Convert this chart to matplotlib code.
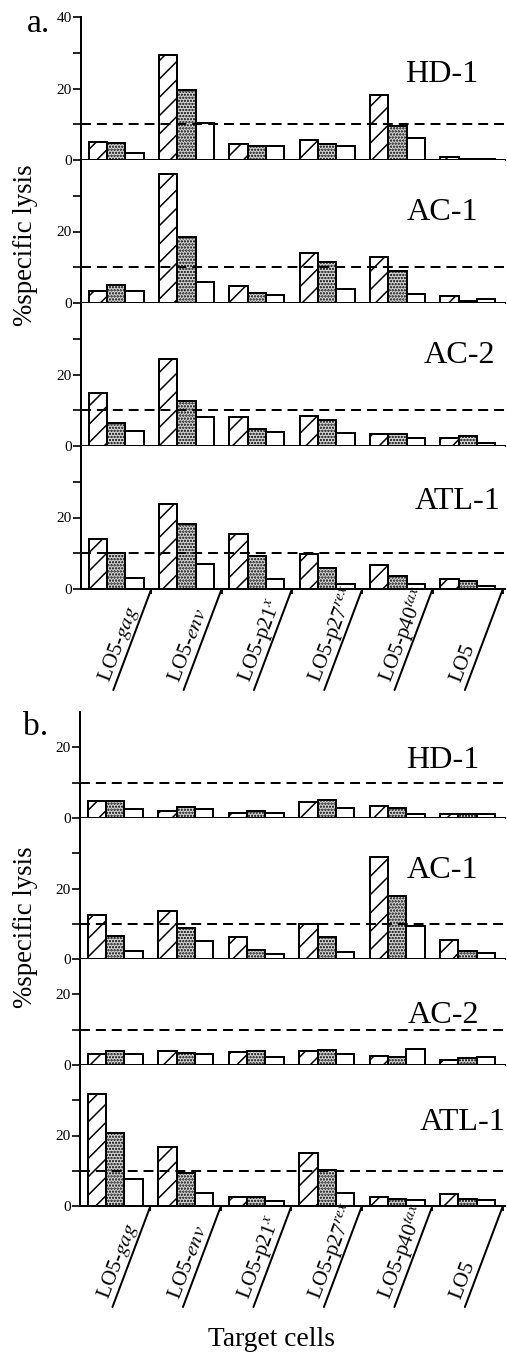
import matplotlib
matplotlib.use('Agg')
import matplotlib.pyplot as plt
import numpy as np

plt.rcParams['font.family'] = ['Liberation Serif', 'DejaVu Serif']
plt.rcParams['mathtext.fontset'] = 'stix'
plt.rcParams['hatch.linewidth'] = 1.0

# target cells (x categories)
categories = ['LO5-gag', 'LO5-env', 'LO5-p21x', 'LO5-p27rex', 'LO5-p40tax', 'LO5']
cat_labels = ['LO5-$\\mathit{gag}$', 'LO5-$\\mathit{env}$', 'LO5-p21$^{x}$',
              'LO5-p27$^{rex}$', 'LO5-p40$^{tax}$', 'LO5']
effectors = ['HD-1', 'AC-1', 'AC-2', 'ATL-1']

# panel a, % specific lysis  (hatched / stippled / open bars)
a_hd1_hatch = [5.0, 29.3, 4.5, 5.6, 18.3, 0.7]
a_hd1_dot = [4.8, 19.5, 4.0, 4.4, 9.4, 0.3]
a_hd1_open = [2.0, 10.3, 4.0, 3.8, 6.1, 0.2]
a_ac1_hatch = [3.3, 36.2, 4.7, 14.0, 12.9, 1.9]
a_ac1_dot = [5.0, 18.6, 2.9, 11.6, 9.0, 0.6]
a_ac1_open = [3.3, 6.0, 2.1, 3.8, 2.4, 1.2]
a_ac2_hatch = [14.8, 24.4, 8.1, 8.3, 3.3, 2.2]
a_ac2_dot = [6.5, 12.6, 4.8, 7.2, 3.3, 2.8]
a_ac2_open = [4.1, 8.1, 3.9, 3.5, 2.2, 0.9]
a_atl1_hatch = [14.1, 23.8, 15.4, 9.7, 6.6, 2.9]
a_atl1_dot = [10.0, 18.1, 9.1, 6.0, 3.6, 2.3]
a_atl1_open = [3.2, 7.1, 2.9, 1.3, 1.3, 0.9]

# panel b
b_hd1_hatch = [4.7, 1.9, 1.3, 4.4, 3.4, 1.0]
b_hd1_dot = [4.8, 3.1, 2.0, 5.0, 2.8, 1.0]
b_hd1_open = [2.5, 2.5, 1.4, 2.8, 1.1, 1.0]
b_ac1_hatch = [12.4, 13.6, 6.1, 10.0, 29.0, 5.3]
b_ac1_dot = [6.4, 8.8, 2.6, 6.1, 18.0, 2.3]
b_ac1_open = [2.4, 5.0, 1.5, 2.1, 9.3, 1.7]
b_ac2_hatch = [3.0, 4.1, 3.8, 3.9, 2.6, 1.3]
b_ac2_dot = [4.1, 3.3, 4.1, 4.3, 2.2, 2.0]
b_ac2_open = [3.2, 3.0, 2.2, 3.2, 4.5, 2.2]
b_atl1_hatch = [31.7, 16.6, 2.6, 15.0, 2.6, 3.5]
b_atl1_dot = [20.7, 9.5, 2.6, 10.3, 1.9, 2.1]
b_atl1_open = [7.8, 3.8, 1.3, 3.8, 1.6, 1.6]

cutoff = 10

W, H = 507, 1357
DPI = 110
fig = plt.figure(figsize=(W / DPI, H / DPI), dpi=DPI)


def px_axes(left, top, width, height):
    return fig.add_axes([left / W, 1 - (top + height) / H, width / W, height / H])


def draw_row(ax, hatch, dot, opn, ymax, name, name_pos, top_label=False):
    x = np.arange(len(categories)) + 0.5
    w = 0.26
    ax.bar(x - w, hatch, w, facecolor='white', edgecolor='black', hatch='//', lw=1.3, zorder=2)
    ax.bar(x, dot, w, facecolor='#d2d2d2', edgecolor='black', hatch='......', lw=1.3, zorder=2)
    ax.bar(x + w, opn, w, facecolor='white', edgecolor='black', lw=1.3, zorder=2)
    ax.axhline(cutoff, color='black', lw=1.3, ls=(0, (5, 3)), zorder=3)
    ax.set_xlim(0, 6.03)
    ax.set_ylim(0, ymax)
    for s in ['top', 'right']:
        ax.spines[s].set_visible(False)
    for s in ['left', 'bottom']:
        ax.spines[s].set_linewidth(1.3)
    ax.set_xticks(np.arange(1, 7))
    ax.set_xticklabels([])
    ax.tick_params(axis='x', direction='out', length=3, width=1.2)
    yt = [0, 20, 40] if top_label else [0, 20]
    ax.set_yticks(yt)
    ax.set_yticklabels([str(v) for v in yt])
    ax.set_yticks([v for v in [10, 30] if v < ymax], minor=True)
    ax.tick_params(axis='y', which='both', direction='out', length=5, width=1.1,
                   labelsize=10, pad=1)
    ax.text(name_pos[0], name_pos[1], name, transform=ax.transAxes, ha='right',
            va='center', fontsize=21, zorder=1)


def draw_cats(ax):
    # slanted underline from each group tick, label sitting on it
    for i, lbl in enumerate(cat_labels):
        ax.annotate('', xy=(i + 1, 0), xycoords=('data', 'axes fraction'),
                    xytext=(-38, -101), textcoords='offset pixels',
                    arrowprops=dict(arrowstyle='-', lw=1.3, shrinkA=0, shrinkB=0),
                    annotation_clip=False)
        ax.annotate(lbl, xy=(i + 1, 0), xycoords=('data', 'axes fraction'),
                    xytext=(-42, -94), textcoords='offset pixels', rotation=69,
                    rotation_mode='anchor', ha='left', va='baseline', fontsize=14,
                    annotation_clip=False)


# ---- panel a ----
a_data = [(a_hd1_hatch, a_hd1_dot, a_hd1_open),
          (a_ac1_hatch, a_ac1_dot, a_ac1_open),
          (a_ac2_hatch, a_ac2_dot, a_ac2_open),
          (a_atl1_hatch, a_atl1_dot, a_atl1_open)]
a_name_pos = [(0.936, 0.60), (0.936, 0.63), (0.976, 0.63), (0.988, 0.61)]
top = 17
for k, (hh, dd, oo) in enumerate(a_data):
    ax = px_axes(81, top, 424, 143)
    draw_row(ax, hh, dd, oo, 40, effectors[k], a_name_pos[k], top_label=(k == 0))
    top += 143
draw_cats(ax)

# ---- panel b ----
b_data = [(b_hd1_hatch, b_hd1_dot, b_hd1_open),
          (b_ac1_hatch, b_ac1_dot, b_ac1_open),
          (b_ac2_hatch, b_ac2_dot, b_ac2_open),
          (b_atl1_hatch, b_atl1_dot, b_atl1_open)]
b_ylim = [30, 40, 30, 40]
b_heights = [106, 141, 106, 141]
b_name_pos = [(0.94, 0.54), (0.936, 0.63), (0.94, 0.47), (1.0, 0.59)]
top = 712
for k, (hh, dd, oo) in enumerate(b_data):
    ax = px_axes(80, top, 425, b_heights[k])
    draw_row(ax, hh, dd, oo, b_ylim[k], effectors[k], b_name_pos[k])
    top += b_heights[k]
draw_cats(ax)

fig.text(27 / W, 1 - 32 / H, 'a.', fontsize=22, ha='left', va='baseline')
fig.text(23 / W, 1 - 735 / H, 'b.', fontsize=22, ha='left', va='baseline')
fig.text(26 / W, 1 - 245 / H, '%specific lysis', rotation=90, fontsize=17.5,
         ha='center', va='center')
fig.text(26 / W, 1 - 927 / H, '%specific lysis', rotation=90, fontsize=17.5,
         ha='center', va='center')
fig.text(272 / W, 1 - 1340 / H, 'Target cells', fontsize=18, ha='center', va='center')

fig.savefig('out.png', dpi=DPI)
